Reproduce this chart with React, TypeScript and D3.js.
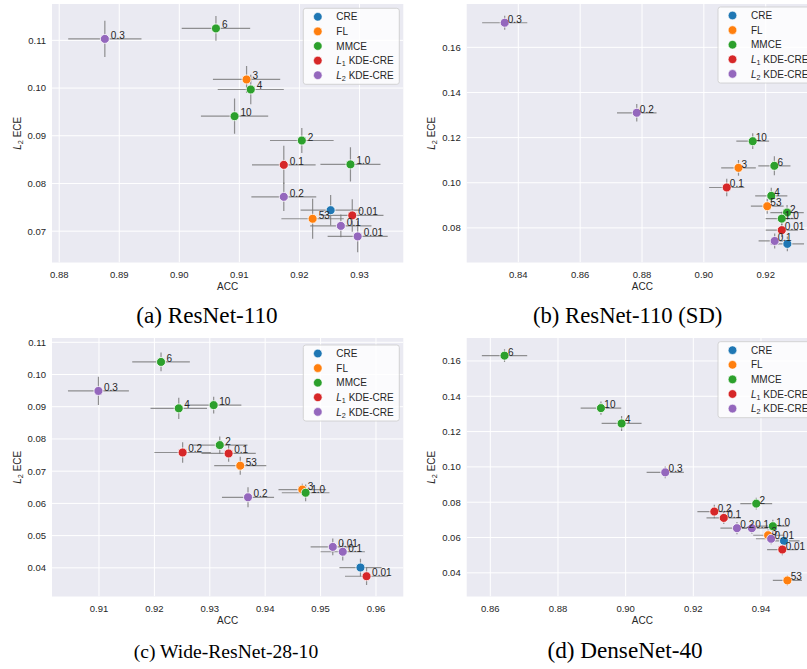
import React, { useEffect, useRef } from "react";
import * as d3 from "d3";

// methods + palette (seaborn tab10)
const methodNames = ["CRE", "FL", "MMCE", "L1 KDE-CRE", "L2 KDE-CRE"];
const methodColors = ["#1f77b4", "#ff7f0e", "#2ca02c", "#d62728", "#9467bd"];

// (a) ResNet-110
const methodA = [4, 2, 1, 2, 2, 2, 3, 2, 4, 0, 3, 1, 4, 4];
const labelA = ["0.3", "6", "3", "4", "10", "2", "0.1", "1.0", "0.2", "", "0.01", "53", "0.1", "0.01"];
const accA = [0.8876, 0.9061, 0.9112, 0.9119, 0.9092, 0.9204, 0.9174, 0.9285, 0.9174, 0.9252, 0.9288, 0.9222, 0.9269, 0.9297];
const accErrA = [0.0061, 0.0057, 0.0056, 0.0055, 0.0056, 0.0053, 0.0053, 0.005, 0.0054, 0.005, 0.0052, 0.0052, 0.0051, 0.005];
const eceA = [0.1103, 0.1125, 0.1018, 0.0997, 0.0941, 0.089, 0.0839, 0.084, 0.0772, 0.0744, 0.0733, 0.0726, 0.0711, 0.0689];
const eceErrA = [0.0038, 0.0026, 0.0028, 0.0031, 0.0037, 0.0026, 0.004, 0.0036, 0.003, 0.0032, 0.0034, 0.0042, 0.0024, 0.0033];

// (b) ResNet-110 (SD)
const methodB = [4, 4, 2, 1, 2, 3, 2, 1, 2, 2, 3, 4, 0];
const labelB = ["0.3", "0.2", "10", "3", "6", "0.1", "4", "53", "2", "1.0", "0.01", "0.1", ""];
const accB = [0.8356, 0.8783, 0.9158, 0.9112, 0.9228, 0.9074, 0.9218, 0.9205, 0.9269, 0.9252, 0.9252, 0.9229, 0.927];
const accErrB = [0.0073, 0.0064, 0.0053, 0.0056, 0.0052, 0.0057, 0.0052, 0.0053, 0.0054, 0.0052, 0.0052, 0.0052, 0.0054];
const eceB = [0.1709, 0.131, 0.1184, 0.1066, 0.1075, 0.0979, 0.0942, 0.0896, 0.0868, 0.0841, 0.079, 0.0742, 0.0729];
const eceErrB = [0.0031, 0.0039, 0.0035, 0.0035, 0.0042, 0.0039, 0.0036, 0.0033, 0.0033, 0.003, 0.003, 0.0033, 0.0033];

// (c) Wide-ResNet-28-10
const methodC = [2, 4, 2, 2, 2, 3, 3, 1, 1, 2, 4, 4, 4, 0, 3];
const labelC = ["6", "0.3", "4", "10", "2", "0.2", "0.1", "53", "3", "1.0", "0.2", "0.01", "0.1", "", "0.01"];
const accC = [0.9212, 0.9099, 0.9244, 0.9307, 0.9318, 0.9251, 0.9334, 0.9355, 0.9467, 0.9473, 0.9369, 0.9522, 0.954, 0.9572, 0.9583];
const accErrC = [0.0052, 0.0055, 0.0051, 0.005, 0.005, 0.0051, 0.0049, 0.0047, 0.0043, 0.0043, 0.0047, 0.004, 0.004, 0.0038, 0.0039];
const eceC = [0.1039, 0.0949, 0.0895, 0.0905, 0.0781, 0.0758, 0.0755, 0.0717, 0.0643, 0.0633, 0.0619, 0.0465, 0.045, 0.0401, 0.0374];
const eceErrC = [0.0029, 0.0044, 0.0033, 0.0026, 0.0027, 0.0032, 0.0026, 0.0028, 0.0018, 0.0026, 0.0031, 0.0026, 0.0027, 0.0027, 0.0027];

// (d) DenseNet-40
const methodD = [2, 2, 2, 4, 2, 3, 3, 4, 4, 2, 1, 4, 0, 3, 1];
const labelD = ["6", "10", "4", "0.3", "2", "0.2", "0.1", "0.2", "0.1", "1.0", "3", "0.01", "", "0.01", "53"];
const accD = [0.8642, 0.8927, 0.8988, 0.9117, 0.9386, 0.9262, 0.929, 0.9329, 0.9373, 0.9435, 0.9421, 0.943, 0.9468, 0.9463, 0.9478];
const accErrD = [0.0067, 0.006, 0.0059, 0.0055, 0.0047, 0.005, 0.0051, 0.0049, 0.0048, 0.0047, 0.0044, 0.0045, 0.0046, 0.0045, 0.0043];
const eceD = [0.163, 0.1333, 0.1246, 0.0969, 0.0792, 0.0747, 0.0711, 0.0653, 0.0653, 0.0664, 0.0613, 0.0593, 0.0581, 0.0532, 0.0357];
const eceErrD = [0.0036, 0.0038, 0.0042, 0.0033, 0.0033, 0.0038, 0.0035, 0.0035, 0.0032, 0.0036, 0.0033, 0.0031, 0.003, 0.0033, 0.0028];

const xTicksA = [0.88, 0.89, 0.9, 0.91, 0.92, 0.93];
const yTicksA = [0.07, 0.08, 0.09, 0.1, 0.11];
const xTicksB = [0.84, 0.86, 0.88, 0.9, 0.92];
const yTicksB = [0.08, 0.1, 0.12, 0.14, 0.16];
const xTicksC = [0.91, 0.92, 0.93, 0.94, 0.95, 0.96];
const yTicksC = [0.04, 0.05, 0.06, 0.07, 0.08, 0.09, 0.1, 0.11];
const xTicksD = [0.86, 0.88, 0.9, 0.92, 0.94];
const yTicksD = [0.04, 0.06, 0.08, 0.1, 0.12, 0.14, 0.16];

const captions = ["(a) ResNet-110", "(b) ResNet-110 (SD)", "(c) Wide-ResNet-28-10", "(d) DenseNet-40"];

const SANS = "'Liberation Sans', Arial, sans-serif";
const INK = "#262626";
const W = 351.3, H = 258.5;

const panels = [
  { left: 52, top: 4, xd: [0.8788, 0.9373], yd: [0.06343, 0.11762], xt: xTicksA, yt: yTicksA,
    m: methodA, lab: labelA, acc: accA, accErr: accErrA, ece: eceA, eceErr: eceErrA, leg: [303.3, 8.3], cap: [207, 322.5, 23.2] },
  { left: 466.7, top: 4, xd: [0.82331, 0.93691], yd: [0.06466, 0.1792], xt: xTicksB, yt: yTicksB,
    m: methodB, lab: labelB, acc: accB, accErr: accErrB, ece: eceB, eceErr: eceErrB, leg: [718, 7], cap: [627.7, 322.5, 22.7] },
  { left: 52, top: 338, xd: [0.90152, 0.96493], yd: [0.03111, 0.11133], xt: xTicksC, yt: yTicksC,
    m: methodC, lab: labelC, acc: accC, accErr: accErrC, ece: eceC, eceErr: eceErrC, leg: [303.3, 345], cap: [226, 657.7, 19.6] },
  { left: 466.7, top: 338, xd: [0.85302, 0.95685], yd: [0.0266, 0.173], xt: xTicksD, yt: yTicksD,
    m: methodD, lab: labelD, acc: accD, accErr: accErrD, ece: eceD, eceErr: eceErrD, leg: [718, 341.7], cap: [625, 657.7, 23.2] },
];

function subLabel(sel, main, sub, rest, size) {
  sel.append("tspan").style("font-style", "italic").text(main);
  sel.append("tspan").attr("baseline-shift", "-25%").style("font-size", size * 0.72 + "px").text(sub);
  sel.append("tspan").text(rest);
}

export default function App() {
  const ref = useRef(null);

  useEffect(() => {
    const svg = d3.select(ref.current);
    svg.selectAll("*").remove();

    panels.forEach((p, pi) => {
      const x = d3.scaleLinear().domain(p.xd).range([0, W]);
      const y = d3.scaleLinear().domain(p.yd).range([H, 0]);
      const clipId = "clip" + pi;
      svg.append("clipPath").attr("id", clipId).append("rect").attr("width", W).attr("height", H);

      const g = svg.append("g").attr("transform", `translate(${p.left},${p.top})`);
      g.append("rect").attr("width", W).attr("height", H).attr("fill", "#eaeaf2");

      const plot = g.append("g").attr("clip-path", `url(#${clipId})`);
      plot.selectAll(".gx").data(p.xt).join("line")
        .attr("x1", d => x(d)).attr("x2", d => x(d)).attr("y1", 0).attr("y2", H)
        .attr("stroke", "white").attr("stroke-width", 1);
      plot.selectAll(".gy").data(p.yt).join("line")
        .attr("y1", d => y(d)).attr("y2", d => y(d)).attr("x1", 0).attr("x2", W)
        .attr("stroke", "white").attr("stroke-width", 1);

      const idx = d3.range(p.acc.length);
      // error bars
      plot.selectAll(".eh").data(idx).join("line")
        .attr("x1", i => x(p.acc[i] - p.accErr[i])).attr("x2", i => x(p.acc[i] + p.accErr[i]))
        .attr("y1", i => y(p.ece[i])).attr("y2", i => y(p.ece[i]))
        .attr("stroke", "#777").attr("stroke-opacity", 0.8).attr("stroke-width", 1.2);
      plot.selectAll(".ev").data(idx).join("line")
        .attr("x1", i => x(p.acc[i])).attr("x2", i => x(p.acc[i]))
        .attr("y1", i => y(p.ece[i] - p.eceErr[i])).attr("y2", i => y(p.ece[i] + p.eceErr[i]))
        .attr("stroke", "#777").attr("stroke-opacity", 0.8).attr("stroke-width", 1.2);
      // points
      plot.selectAll("circle").data(idx).join("circle")
        .attr("cx", i => x(p.acc[i])).attr("cy", i => y(p.ece[i])).attr("r", 4.5)
        .attr("fill", i => methodColors[p.m[i]]).attr("stroke", "white").attr("stroke-width", 0.8);
      // annotations
      plot.selectAll(".ann").data(idx).join("text")
        .attr("x", i => x(p.acc[i] + 0.001)).attr("y", i => y(p.ece[i]))
        .attr("font-family", SANS).attr("font-size", 10).attr("fill", INK)
        .text(i => p.lab[i]);

      // ticks
      g.selectAll(".tx").data(p.xt).join("text")
        .attr("x", d => x(d)).attr("y", H + 15.2).attr("text-anchor", "middle")
        .attr("font-family", SANS).attr("font-size", 9.5).attr("fill", INK)
        .text(d => d3.format(".2f")(d));
      g.selectAll(".ty").data(p.yt).join("text")
        .attr("x", -6).attr("y", d => y(d) + 3.4).attr("text-anchor", "end")
        .attr("font-family", SANS).attr("font-size", 9.5).attr("fill", INK)
        .text(d => d3.format(".2f")(d));

      g.append("text").attr("x", W / 2).attr("y", H + 27.5).attr("text-anchor", "middle")
        .attr("font-family", SANS).attr("font-size", 10).attr("fill", INK).text("ACC");
      const yl = g.append("text").attr("transform", `translate(-31.5,${H / 2}) rotate(-90)`)
        .attr("text-anchor", "middle").attr("font-family", SANS).attr("font-size", 10).attr("fill", INK);
      subLabel(yl, "L", "2", " ECE", 10);

      // legend
      const lg = svg.append("g").attr("transform", `translate(${p.leg[0]},${p.leg[1]})`);
      lg.append("rect").attr("width", 96).attr("height", 76).attr("rx", 2.5)
        .attr("fill", "white").attr("fill-opacity", 0.8).attr("stroke", "#cccccc").attr("stroke-width", 0.8);
      methodNames.forEach((name, k) => {
        const cy = 8.5 + k * 14.6;
        lg.append("circle").attr("cx", 14.5).attr("cy", cy).attr("r", 4.3)
          .attr("fill", methodColors[k]).attr("stroke", "white").attr("stroke-width", 0.6);
        const t = lg.append("text").attr("x", 33).attr("y", cy + 3.6)
          .attr("font-family", SANS).attr("font-size", 10).attr("fill", INK);
        if (name.startsWith("L1") || name.startsWith("L2")) subLabel(t, "L", name[1], name.slice(2), 10);
        else t.text(name);
      });

      svg.append("text").attr("x", p.cap[0]).attr("y", p.cap[1]).attr("text-anchor", "middle")
        .attr("font-family", "'Liberation Serif', 'Times New Roman', serif").attr("font-size", p.cap[2])
        .attr("fill", "black").text(captions[pi]);
    });
  }, []);

  return (
    <svg ref={ref} width={807} height={669}
      style={{ position: "absolute", left: 0, top: 0, background: "white", display: "block" }} />
  );
}
